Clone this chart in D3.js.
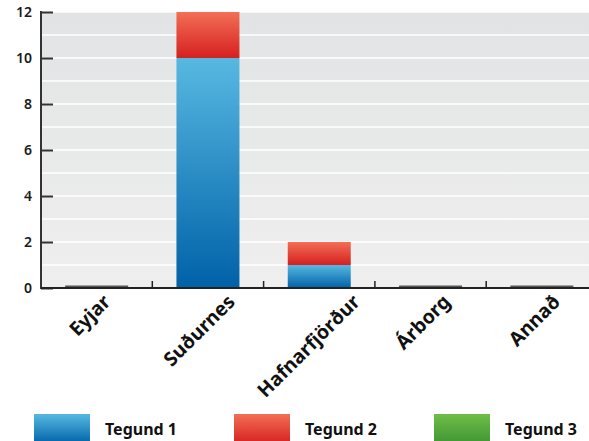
<!DOCTYPE html>
<html>
<head>
<meta charset="utf-8">
<script src="https://cdn.jsdelivr.net/npm/d3@7"></script>
<style>
  body { margin: 0; background: #fff; }
  svg { display: block; }
</style>
</head>
<body>
<div id="chart"></div>
<script>
const categories = ['Eyjar', 'Suðurnes', 'Hafnarfjörður', 'Árborg', 'Annað'];
const seriesNames = ['Tegund 1', 'Tegund 2', 'Tegund 3'];
const tegund1 = [0, 10, 1, 0, 0];
const tegund2 = [0, 2, 1, 0, 0];
const tegund3 = [0, 0, 0, 0, 0];
const yTicks = [0, 2, 4, 6, 8, 10, 12];

const width = 589;
const height = 441;
const margin = { top: 12, left: 41, bottom: 153 };
const plotBottom = height - margin.bottom;

// gradient stops, top then bottom
const colors = [
  ['#57b9e1', '#0061a8'],
  ['#f36f55', '#d52020'],
  ['#70be47', '#3e9535'],
];

const rows = categories.map((c, i) => ({
  name: c,
  'Tegund 1': tegund1[i],
  'Tegund 2': tegund2[i],
  'Tegund 3': tegund3[i],
}));
const stacked = d3.stack().keys(seriesNames)(rows);

const svg = d3
  .select('#chart')
  .append('svg')
  .attr('width', width)
  .attr('height', height);

const defs = svg.append('defs');
colors.forEach((c, i) => {
  const g = defs
    .append('linearGradient')
    .attr('id', 'grad' + i)
    .attr('x1', 0).attr('y1', 0).attr('x2', 0).attr('y2', 1);
  g.append('stop').attr('offset', '0%').attr('stop-color', c[0]);
  g.append('stop').attr('offset', '100%').attr('stop-color', c[1]);
});
const bg = defs
  .append('linearGradient')
  .attr('id', 'bg')
  .attr('x1', 0).attr('y1', 0).attr('x2', 0).attr('y2', 1);
bg.append('stop').attr('offset', '0%').attr('stop-color', '#e2e3e4');
bg.append('stop').attr('offset', '100%').attr('stop-color', '#efefef');

const step = 111.3;
const x = d3
  .scaleBand()
  .domain(categories)
  .range([margin.left, margin.left + step * categories.length])
  .paddingInner(0.434)
  .paddingOuter(0.217);

const y = d3.scaleLinear().domain([0, 12]).range([plotBottom, margin.top]);

// plot background
svg
  .append('rect')
  .attr('x', margin.left)
  .attr('y', margin.top)
  .attr('width', x.range()[1] - margin.left)
  .attr('height', plotBottom - margin.top)
  .attr('fill', 'url(#bg)');

// grid lines every unit
svg
  .append('g')
  .selectAll('line')
  .data(d3.range(1, 13))
  .join('line')
  .attr('x1', margin.left)
  .attr('x2', width)
  .attr('y1', (d) => y(d))
  .attr('y2', (d) => y(d))
  .attr('stroke', '#fff')
  .attr('stroke-width', 1.5);

// bars
svg
  .append('g')
  .selectAll('g')
  .data(stacked)
  .join('g')
  .attr('fill', (d, i) => `url(#grad${i})`)
  .selectAll('rect')
  .data((d) => d.filter((s) => s[1] - s[0] > 0))
  .join('rect')
  .attr('x', (d) => x(d.data.name))
  .attr('width', x.bandwidth())
  .attr('y', (d) => y(d[1]))
  .attr('height', (d) => y(d[0]) - y(d[1]));

// empty categories get a flat marker
svg
  .append('g')
  .selectAll('rect')
  .data(rows.filter((r) => seriesNames.every((k) => r[k] === 0)))
  .join('rect')
  .attr('x', (d) => x(d.name))
  .attr('width', x.bandwidth())
  .attr('y', plotBottom - 2.5)
  .attr('height', 2.5)
  .attr('fill', '#555');

// y axis
const yAxis = svg
  .append('g')
  .attr('transform', `translate(${margin.left},0)`)
  .call(d3.axisRight(y).tickValues(yTicks).tickSize(12).tickFormat(''));
yAxis.select('.domain').remove();
yAxis.selectAll('.tick line').attr('stroke', '#333').attr('stroke-width', 2);
svg
  .append('line')
  .attr('x1', margin.left).attr('x2', margin.left)
  .attr('y1', margin.top - 1).attr('y2', plotBottom + 1)
  .attr('stroke', '#333').attr('stroke-width', 2);

svg
  .append('g')
  .selectAll('text')
  .data(yTicks)
  .join('text')
  .attr('x', 32)
  .attr('y', (d) => y(d))
  .attr('dy', '0.36em')
  .attr('text-anchor', 'end')
  .attr('font-family', 'Noto Sans, sans-serif')
  .attr('font-weight', 600)
  .attr('font-size', 14)
  .attr('fill', '#1a1a1a')
  .text((d) => d);

// x axis
svg
  .append('line')
  .attr('x1', margin.left).attr('x2', width)
  .attr('y1', plotBottom).attr('y2', plotBottom)
  .attr('stroke', '#222').attr('stroke-width', 2);
svg
  .append('g')
  .selectAll('line')
  .data(categories.slice(1))
  .join('line')
  .attr('x1', (d) => x(d) - (x.step() - x.bandwidth()) / 2)
  .attr('x2', (d) => x(d) - (x.step() - x.bandwidth()) / 2)
  .attr('y1', plotBottom)
  .attr('y2', plotBottom - 7)
  .attr('stroke', '#222')
  .attr('stroke-width', 1.5);

const xLabels = svg
  .append('g')
  .selectAll('text')
  .data(categories)
  .join('text')
  .attr('text-anchor', 'end')
  .attr('font-family', 'Noto Sans, sans-serif')
  .attr('font-weight', 700)
  .attr('font-size', 19.5)
  .attr('fill', '#111')
  .text((d) => d);
xLabels.attr('transform', function (d) {
  const w = this.getComputedTextLength();
  const ax = x(d) + x.bandwidth() / 2 + w * 0.31;
  return `translate(${ax},${plotBottom + 15}) rotate(-45)`;
});

// legend
const legend = svg
  .append('g')
  .selectAll('g')
  .data(seriesNames)
  .join('g')
  .attr('transform', (d, i) => `translate(${34 + i * 200},414)`);
legend
  .append('rect')
  .attr('width', 56)
  .attr('height', 30)
  .attr('fill', (d, i) => `url(#grad${i})`);
legend
  .append('text')
  .attr('x', 71)
  .attr('y', 21)
  .attr('font-family', 'Noto Sans, sans-serif')
  .attr('font-weight', 700)
  .attr('font-size', 16)
  .attr('fill', '#111')
  .text((d) => d);
</script>
</body>
</html>
